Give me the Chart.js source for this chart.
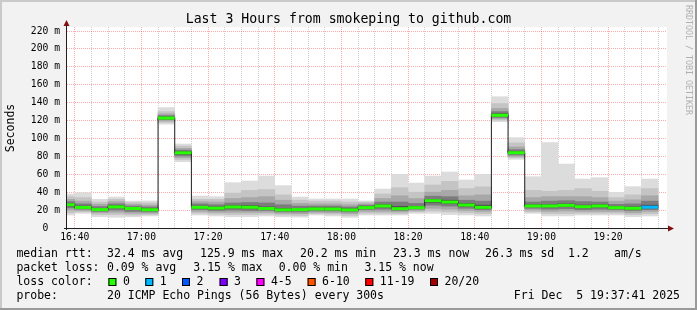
<!DOCTYPE html>
<html>
<head>
<meta charset="utf-8">
<script src="https://cdn.jsdelivr.net/npm/chart.js@4/dist/chart.umd.min.js"></script>
<style>
  html, body { margin: 0; padding: 0; background: #f2f2f2; }
  canvas { display: block; }
</style>
</head>
<body>
<canvas id="smoke" width="697" height="310"></canvas>
<script>
// 5 minute steps (start time of each step)
const steps = ['16:35','16:40','16:45','16:50','16:55','17:00','17:05','17:10','17:15','17:20','17:25','17:30',
               '17:35','17:40','17:45','17:50','17:55','18:00','18:05','18:10','18:15','18:20','18:25','18:30',
               '18:35','18:40','18:45','18:50','18:55','19:00','19:05','19:10','19:15','19:20','19:25','19:30'];

// median rtt in ms
const median = [26.0, 23.0, 20.6, 23.6, 21.8, 20.4, 122.8, 84.0, 23.1, 22.2, 23.5, 23.2,
                21.8, 20.3, 20.6, 21.3, 21.2, 20.2, 22.7, 24.6, 21.6, 22.7, 30.5, 29.0,
                25.7, 23.1, 125.9, 84.1, 24.6, 24.6, 25.3, 23.8, 24.6, 22.7, 22.0, 23.3];

// sorted pings (rank out of 20) in ms, used for the smoke
const ping01 = [14.5, 16.4, 12.6, 12.0, 12.5, 13.4, 116.0, 74.0, 14.5, 13.4, 12.6, 12.6,
                13.4, 12.5, 12.2, 14.5, 13.4, 11.9, 14.5, 14.5, 14.5, 16.4, 16.4, 15.0,
                14.5, 13.4, 118.7, 76.7, 16.4, 13.4, 13.4, 14.5, 14.5, 14.5, 12.6, 13.4];
const ping03 = [17.0, 18.0, 15.0, 15.0, 14.5, 15.0, 118.0, 76.5, 16.5, 15.5, 15.0, 15.0,
                15.5, 14.5, 14.0, 16.0, 15.5, 14.0, 16.5, 16.5, 16.0, 18.0, 19.0, 18.0,
                17.0, 16.0, 120.5, 78.5, 18.0, 16.0, 16.0, 16.5, 16.5, 16.5, 15.0, 16.0];
const ping05 = [20.0, 19.5, 17.0, 17.5, 16.5, 16.5, 119.5, 78.5, 18.5, 17.5, 17.5, 17.5,
                17.5, 16.5, 16.0, 17.5, 17.0, 16.0, 18.5, 18.5, 18.0, 19.5, 22.0, 21.0,
                19.5, 18.5, 122.0, 80.0, 20.0, 18.5, 19.0, 18.5, 18.5, 18.5, 17.0, 18.5];
const ping07 = [22.5, 21.0, 18.5, 20.0, 18.5, 18.0, 121.0, 80.5, 20.5, 19.5, 20.0, 19.5,
                19.5, 18.0, 18.0, 19.0, 19.0, 18.0, 20.5, 21.0, 19.5, 21.0, 25.5, 24.5,
                22.0, 20.5, 123.5, 81.5, 22.0, 21.0, 21.5, 20.5, 21.0, 20.5, 19.5, 20.5];
const ping09 = [24.5, 22.3, 19.8, 22.5, 20.8, 19.5, 122.0, 82.5, 22.0, 21.0, 22.3, 22.0,
                20.8, 19.3, 19.5, 20.5, 20.3, 19.3, 21.8, 23.5, 20.8, 22.0, 28.5, 27.5,
                24.5, 22.0, 125.0, 83.0, 23.7, 23.5, 24.0, 22.5, 23.5, 21.8, 21.0, 22.5];
const ping12 = [27.5, 24.5, 22.0, 25.0, 23.0, 21.5, 124.0, 85.5, 24.5, 23.5, 25.0, 25.0,
                23.5, 22.0, 22.0, 22.5, 22.5, 21.5, 23.8, 26.0, 24.0, 24.0, 32.0, 31.0,
                27.5, 25.5, 127.5, 85.5, 26.0, 26.0, 27.0, 25.5, 26.0, 24.0, 23.5, 25.5];
const ping14 = [29.5, 27.0, 24.0, 27.0, 24.5, 23.5, 125.5, 87.0, 27.0, 26.0, 28.0, 28.5,
                28.0, 26.0, 24.5, 24.5, 24.5, 23.5, 25.5, 29.0, 29.0, 27.5, 35.5, 35.0,
                31.0, 30.0, 130.0, 87.5, 29.0, 30.0, 30.5, 29.5, 29.0, 26.5, 27.0, 30.0];
const ping16 = [32.0, 30.0, 26.5, 29.5, 26.5, 25.5, 127.5, 89.0, 29.5, 29.0, 33.0, 34.0,
                35.0, 31.0, 27.5, 27.0, 27.0, 26.0, 27.0, 33.0, 36.0, 33.0, 40.0, 42.0,
                36.0, 37.0, 133.5, 90.5, 34.0, 35.0, 35.0, 35.0, 34.0, 30.0, 31.5, 36.0];
const ping18 = [35.0, 34.0, 29.0, 32.0, 28.5, 28.0, 130.0, 91.5, 32.0, 32.0, 39.0, 42.0,
                43.0, 37.0, 31.0, 30.0, 30.0, 29.0, 28.8, 38.0, 45.0, 40.0, 48.0, 52.0,
                44.0, 46.0, 139.0, 95.0, 42.0, 41.0, 42.0, 44.0, 41.0, 34.0, 37.0, 44.0];
const ping20 = [38.0, 39.5, 32.0, 34.6, 30.0, 30.2, 134.5, 93.8, 35.7, 35.0, 50.6, 52.5,
                58.0, 47.3, 34.6, 32.4, 32.4, 32.4, 30.2, 43.5, 60.0, 50.2, 58.0, 62.5,
                53.6, 60.0, 146.6, 100.9, 57.3, 95.3, 71.5, 54.7, 56.2, 39.8, 46.2, 54.7];

// packet loss per step in %
const lossPct = [0,0,0,0,0,0,0,0,0,0,0,0, 0,0,0,0,0,0,0,0,0,0,0,0, 0,0,0,0,0,0,0,0,0,0,0,3.15];

const lossLimits = [0, 1, 2, 3, 5, 10, 19, 20];
const lossLabels = ['0', '1', '2', '3', '4-5', '6-10', '11-19', '20/20'];
const lossColors = ['#26ff00', '#00b8ff', '#0059ff', '#7e00ff', '#ff00ff', '#ff5500', '#ff0000', '#a00000'];

const xLabels = ['16:40','17:00','17:20','17:40','18:00','18:20','18:40','19:00','19:20'];
const yTicks = [0, 20, 40, 60, 80, 100, 120, 140, 160, 180, 200, 220];
const yTickLabels = ['0  ', '20 m', '40 m', '60 m', '80 m', '100 m', '120 m', '140 m', '160 m', '180 m', '200 m', '220 m'];

const pings = 20;
const stepLen = 5;
const toMin = t => { const [h, m] = t.split(':').map(Number); return h * 60 + m; };
const viewStart = toMin('16:37') + 41 / 60;
const viewEnd = viewStart + 180;

const MONO = '"DejaVu Sans Mono", monospace';
const majorGrid = 'rgba(255, 0, 0, 0.33)';
const minorGrid = 'rgba(128, 128, 128, 0.38)';

const lossColor = pct => {
    const lost = pct / 100 * pings;
    for (let i = 0; i < lossLimits.length; i++) {
        if (lost <= lossLimits[i]) return lossColors[i];
    }
    return lossColors[lossColors.length - 1];
};

const smokeBands = [
    [ping01, ping20, '#dcdcdc'],
    [ping03, ping18, '#c4c4c4'],
    [ping05, ping16, '#a8a8a8'],
    [ping07, ping14, '#7c7c7c'],
    [ping09, ping12, '#4a4a4a']
];

const datasets = [];
datasets.push({
    type: 'line',
    order: 0,
    data: steps.map((t, i) => ({x: toMin(t) + stepLen / 2, y: median[i]})),
    showLine: false,
    pointStyle: 'line',
    pointRadius: c => {
        const s = c.chart.scales.x;
        return Math.abs(s.getPixelForValue(stepLen) - s.getPixelForValue(0)) / 2;
    },
    pointHoverRadius: 0,
    pointBorderWidth: 3,
    pointBorderColor: c => lossColor(lossPct[c.dataIndex]),
    clip: 0
});
datasets.push({
    type: 'line',
    order: 1,
    data: steps.map((t, i) => ({x: toMin(t) + stepLen / 2, y: median[i]})),
    stepped: 'middle',
    borderColor: '#202020',
    borderWidth: 1,
    pointRadius: 0,
    fill: false,
    clip: 0
});
smokeBands.forEach(([lo, hi, col], k) => {
    datasets.push({
        type: 'bar',
        order: 10 - k,
        data: steps.map((t, i) => ({x: toMin(t) + stepLen / 2, y: [lo[i], hi[i]]})),
        backgroundColor: col,
        borderWidth: 0,
        grouped: false,
        barPercentage: 1,
        categoryPercentage: 1,
        clip: 0
    });
});

const decor = {
    id: 'decor',
    beforeDraw(chart) {
        const {ctx, chartArea: a, width, height} = chart;
        ctx.save();
        ctx.fillStyle = '#f2f2f2';
        ctx.fillRect(0, 0, width, height);
        ctx.fillStyle = '#cacaca';
        ctx.fillRect(0, 0, width, 2);
        ctx.fillRect(0, 0, 2, height);
        ctx.fillStyle = '#9a9a9a';
        ctx.fillRect(0, height - 2, width, 2);
        ctx.fillRect(width - 2, 0, 2, height);
        ctx.fillStyle = '#ffffff';
        ctx.fillRect(a.left, a.top, a.right - a.left, a.bottom - a.top);
        ctx.restore();
    },
    afterDraw(chart) {
        const {ctx, chartArea: a} = chart;
        ctx.save();
        // axes
        ctx.strokeStyle = '#202020';
        ctx.lineWidth = 1;
        ctx.beginPath();
        ctx.moveTo(a.left - 0.5, a.bottom + 2);
        ctx.lineTo(a.left - 0.5, a.top - 3);
        ctx.moveTo(a.left - 3, a.bottom + 0.5);
        ctx.lineTo(a.right + 2, a.bottom + 0.5);
        ctx.stroke();
        ctx.fillStyle = '#7f1010';
        ctx.beginPath();
        ctx.moveTo(a.left - 0.5, a.top - 7);
        ctx.lineTo(a.left - 3.5, a.top - 1);
        ctx.lineTo(a.left + 2.5, a.top - 1);
        ctx.closePath();
        ctx.fill();
        ctx.beginPath();
        ctx.moveTo(a.right + 7, a.bottom + 0.5);
        ctx.lineTo(a.right + 1, a.bottom - 2.5);
        ctx.lineTo(a.right + 1, a.bottom + 3.5);
        ctx.closePath();
        ctx.fill();

        // title
        ctx.fillStyle = '#000';
        ctx.textBaseline = 'middle';
        ctx.textAlign = 'center';
        ctx.font = '13.2px ' + MONO;
        ctx.fillText('Last 3 Hours from smokeping to github.com', 348.5, 19.5);

        // unit label
        ctx.save();
        ctx.translate(11, 128);
        ctx.rotate(-Math.PI / 2);
        ctx.font = '11.5px ' + MONO;
        ctx.fillText('Seconds', 0, 0);
        ctx.restore();

        // watermark
        ctx.save();
        ctx.translate(688, 60);
        ctx.rotate(Math.PI / 2);
        ctx.font = '8.3px ' + MONO;
        ctx.fillStyle = '#b0b0b0';
        ctx.fillText('RRDTOOL / TOBI OETIKER', 0, 0);
        ctx.restore();

        // legend
        ctx.textAlign = 'left';
        ctx.font = '11.5px ' + MONO;
        const rows = [
            [254.5, [[16.4, 'median rtt:'], [107, '32.4 ms avg'], [200, '125.9 ms max'], [300, '20.2 ms min'],
                     [393, '23.3 ms now'], [485, '26.3 ms sd'], [568, '1.2'], [614, 'am/s']]],
            [268.5, [[16.4, 'packet loss:'], [107, '0.09 % avg'], [193.3, '3.15 % max'], [278.7, '0.00 % min'],
                     [364.4, '3.15 % now']]],
            [282.5, [[16.4, 'loss color:']]],
            [296.5, [[16.4, 'probe:'], [107, '20 ICMP Echo Pings (56 Bytes) every 300s']]]
        ];
        rows.forEach(([y, items]) => items.forEach(([x, s]) => ctx.fillText(s, x, y)));
        const boxX = [108.4, 145.3, 182, 219.6, 256.4, 307.6, 365.3, 430];
        lossLabels.forEach((lab, i) => {
            ctx.fillStyle = lossColors[i];
            ctx.fillRect(boxX[i], 278, 8, 8);
            ctx.strokeStyle = '#000';
            ctx.strokeRect(boxX[i] + 0.5, 278.5, 7, 7);
            ctx.fillStyle = '#000';
            ctx.fillText(lab, boxX[i] + 14.5, 282.5);
        });
        ctx.textAlign = 'right';
        ctx.fillText('Fri Dec  5 19:37:41 2025', 680, 296.5);
        ctx.restore();
    }
};

const axisFont = {family: MONO, size: 9.7};

new Chart(document.getElementById('smoke'), {
    type: 'bar',
    data: {datasets: datasets},
    options: {
        responsive: false,
        animation: false,
        events: [],
        layout: {padding: {top: 27, right: 30, bottom: 0, left: 0}},
        plugins: {legend: {display: false}, tooltip: {enabled: false}, title: {display: false}},
        scales: {
            x: {
                type: 'linear',
                min: viewStart,
                max: viewEnd,
                offset: false,
                z: 1,
                afterBuildTicks: s => {
                    const t = [];
                    for (let v = Math.ceil(viewStart / stepLen) * stepLen; v <= viewEnd; v += stepLen) t.push({value: v});
                    s.ticks = t;
                },
                afterFit: s => { s.height = 82; },
                grid: {
                    offset: false,
                    drawTicks: false,
                    lineWidth: 1,
                    color: c => (c.tick && xLabels.some(l => toMin(l) === c.tick.value)) ? majorGrid : minorGrid
                },
                border: {display: false, dash: [1, 1]},
                ticks: {
                    autoSkip: false,
                    maxRotation: 0,
                    padding: 4,
                    color: '#000',
                    font: axisFont,
                    callback: v => {
                        const l = xLabels.find(l => toMin(l) === v);
                        return l || '';
                    }
                }
            },
            y: {
                type: 'linear',
                min: 0,
                max: 224.5,
                z: 1,
                afterBuildTicks: s => {
                    const t = [];
                    for (let v = 0; v <= yTicks[yTicks.length - 1]; v += 10) t.push({value: v});
                    s.ticks = t;
                },
                afterFit: s => { s.width = 67; },
                grid: {
                    drawTicks: false,
                    lineWidth: 1,
                    color: c => (c.tick && yTicks.includes(c.tick.value)) ? majorGrid : minorGrid
                },
                border: {display: false, dash: [1, 1]},
                ticks: {
                    padding: 7,
                    color: '#000',
                    font: axisFont,
                    callback: v => {
                        const i = yTicks.indexOf(v);
                        return i >= 0 ? yTickLabels[i] : '';
                    }
                }
            }
        }
    },
    plugins: [decor]
});
</script>
</body>
</html>
